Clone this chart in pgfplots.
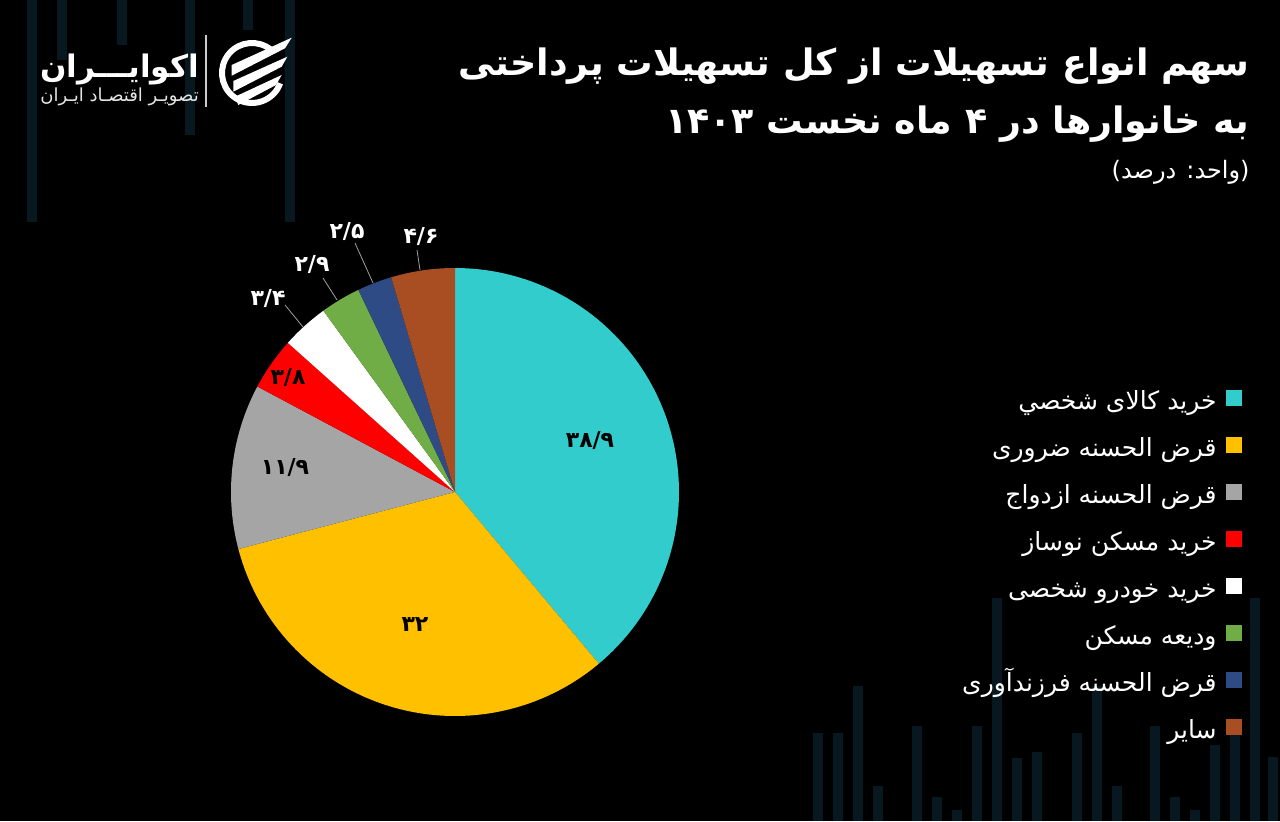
\documentclass[border=0pt]{standalone}
\usepackage{pgfplots}
\pgfplotsset{compat=1.18}
\usepackage{pgfplotstable}
\usepackage{fontspec}
\setmainfont{DejaVu Sans}
\newfontfamily\arabicfont[Script=Arabic]{DejaVu Sans}
\TeXXeTstate=1
\definecolor{cTeal}{HTML}{33CCCC}
\definecolor{cYellow}{HTML}{FFC000}
\definecolor{cGray}{HTML}{A5A5A5}
\definecolor{cRed}{HTML}{FF0000}
\definecolor{cWhite}{HTML}{FFFFFF}
\definecolor{cGreen}{HTML}{70AD47}
\definecolor{cBlue}{HTML}{2F4B85}
\definecolor{cBrown}{HTML}{A84E22}
\definecolor{bgbar}{HTML}{081820}
\definecolor{leader}{HTML}{A0A0A0}

% share of each facility type (percent), clockwise from 12 o'clock
\pgfplotstableread{
idx value
0 38.9
1 32
2 11.9
3 3.8
4 3.4
5 2.9
6 2.5
7 4.6
}\piedata

\def\cum{0}%
\pgfplotsforeachungrouped \k in {0,...,7}{%
  \pgfplotstablegetelem{\k}{value}\of\piedata%
  \pgfmathsetmacro\aS{90-3.6*\cum}%
  \pgfmathsetmacro\cum{\cum+\pgfplotsretval}%
  \pgfmathsetmacro\aE{90-3.6*\cum}%
  \expandafter\xdef\csname aS\k\endcsname{\aS}%
  \expandafter\xdef\csname aE\k\endcsname{\aE}%
}%

\newcommand\slice[2]{%
  \edef\tmp{\noexpand\addplot[fill=#2, draw=none, domain=\csname aE#1\endcsname:\csname aS#1\endcsname, samples=90, variable=\noexpand\t]
  ({455+224*cos(\noexpand\t)},{329+224*sin(\noexpand\t)}) -- (axis cs:455,329) -- cycle;}\tmp}

\newcommand\bgbarU[2]{\fill[bgbar] (axis cs:#1-5,0) rectangle (axis cs:#1+5,821-#2);}
\newcommand\bgbarD[2]{\fill[bgbar] (axis cs:#1-5,821) rectangle (axis cs:#1+5,821-#2);}

\begin{document}%
\begin{tikzpicture}
\begin{axis}[
  width=640pt, height=410.5pt, scale only axis,
  xmin=0, xmax=1280, ymin=0, ymax=821,
  hide axis, clip=false,
  legend plot pos=right,
  legend cell align=right,
  legend style={at={(0.975,0.5298)}, anchor=north east, draw=none, fill=none,
    text=white, font=\arabicfont\fontsize{12.5}{14}\selectfont,
    nodes={inner sep=0pt, text height=8pt, text depth=3pt},
    row sep=11pt, column sep=4.5pt},
  legend image code/.code={\fill[#1] (0pt,-1pt) rectangle (8pt,7pt);},
]
\coordinate (BL) at (axis cs:0,0);
\coordinate (TR) at (axis cs:1280,821);
\fill[black] (axis cs:0,0) rectangle (axis cs:1280,821);
% background decoration
\bgbarD{32}{222}\bgbarD{62}{60}\bgbarD{122}{45}\bgbarD{190}{135}\bgbarD{248}{30}\bgbarD{290}{222}
\bgbarU{818}{733}\bgbarU{838}{733}\bgbarU{858}{686}\bgbarU{878}{786}\bgbarU{917}{726}
\bgbarU{937}{797}\bgbarU{957}{810}\bgbarU{977}{726}\bgbarU{997}{598}\bgbarU{1017}{758}
\bgbarU{1037}{752}\bgbarU{1077}{733}\bgbarU{1097}{686}\bgbarU{1117}{786}\bgbarU{1155}{726}
\bgbarU{1175}{797}\bgbarU{1195}{810}\bgbarU{1215}{745}\bgbarU{1235}{730}\bgbarU{1255}{598}
\bgbarU{1273}{757}

\slice{0}{cTeal}   \addlegendentry{\beginR خرید کالای شخصي\endR}
\slice{1}{cYellow} \addlegendentry{\beginR قرض الحسنه ضروری\endR}
\slice{2}{cGray}   \addlegendentry{\beginR قرض الحسنه ازدواج\endR}
\slice{3}{cRed}    \addlegendentry{\beginR خرید مسکن نوساز\endR}
\slice{4}{cWhite}  \addlegendentry{\beginR خرید خودرو شخصی\endR}
\slice{5}{cGreen}  \addlegendentry{\beginR ودیعه مسکن\endR}
\slice{6}{cBlue}   \addlegendentry{\beginR قرض الحسنه فرزندآوری\endR}
\slice{7}{cBrown}  \addlegendentry{\beginR سایر\endR}

% value labels
\begin{scope}[font=\arabicfont\bfseries\fontsize{11}{13}\selectfont]
\node[text=black] at (axis cs:590,381) {۳۸/۹};
\node[text=black] at (axis cs:415,196) {۳۲};
\node[text=black] at (axis cs:285,354) {۱۱/۹};
\node[text=black] at (axis cs:288,443) {۳/۸};
\node[text=white] at (axis cs:268,522) {۳/۴};
\node[text=white] at (axis cs:312,556) {۲/۹};
\node[text=white] at (axis cs:347,589) {۲/۵};
\node[text=white] at (axis cs:421,584) {۴/۶};
\end{scope}
\draw[leader, line width=0.4pt] (axis cs:285,516) -- (axis cs:303,494);
\draw[leader, line width=0.4pt] (axis cs:323,543) -- (axis cs:337,521);
\draw[leader, line width=0.4pt] (axis cs:355,578) -- (axis cs:373,538);
\draw[leader, line width=0.4pt] (axis cs:417,571) -- (axis cs:420,551);

% titles
\node[anchor=base east, text=white, font=\arabicfont\bfseries\fontsize{18.2}{22}\selectfont, inner sep=0pt]
  at (axis cs:1250,745) {\beginR سهم انواع تسهیلات از کل تسهیلات پرداختی\endR};
\node[anchor=base east, text=white, font=\arabicfont\bfseries\fontsize{18.2}{22}\selectfont, inner sep=0pt]
  at (axis cs:1250,687) {\beginR به خانوارها در ۴ ماه نخست ۱۴۰۳\endR};
\node[anchor=base east, text=white, font=\arabicfont\fontsize{12}{14}\selectfont, inner sep=0pt]
  at (axis cs:1250,642) {\beginR (واحد: درصد)\endR};

% logo
\node[anchor=base west, text=white, font=\arabicfont\bfseries\fontsize{15.5}{20}\selectfont, inner sep=0pt]
  at (axis cs:40,743) {\beginR اکوایـــران\endR};
\node[anchor=base west, text=white!90!black, font=\arabicfont\fontsize{9}{10}\selectfont, inner sep=0pt]
  at (axis cs:40,719) {\beginR تصویـر اقتصـاد ایـران\endR};
\draw[white!80!black, line width=0.6pt] (axis cs:206,786) -- (axis cs:206,714);
\draw[white, line width=3pt] (axis cs:252,748) ++(50:15pt) arc[start angle=50, end angle=340, radius=15pt];
\fill[white] (axis cs:231.7,756) -- (axis cs:291.7,783.3) -- (axis cs:285,772.7) -- (axis cs:231.7,745.3) -- cycle;
\fill[white] (axis cs:233.3,740) -- (axis cs:287.3,764.3) -- (axis cs:281.7,754.3) -- (axis cs:233.3,729.3) -- cycle;
\fill[white] (axis cs:235,724.3) -- (axis cs:281.7,746) -- (axis cs:276,736) -- (axis cs:238.3,716) -- cycle;
\end{axis}
\pgfresetboundingbox
\useasboundingbox (BL) rectangle (TR);
\end{tikzpicture}%
\end{document}
